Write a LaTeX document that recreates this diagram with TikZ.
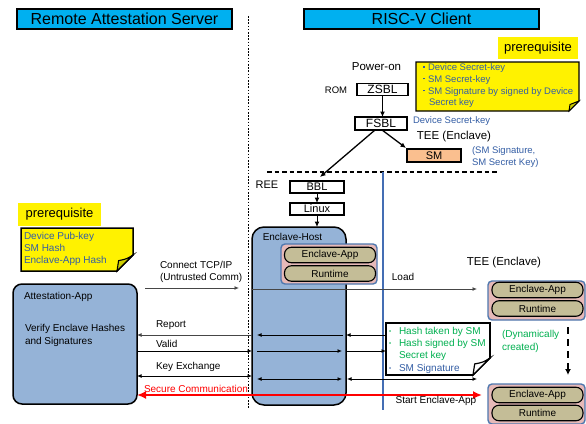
\documentclass[tikz,border=0pt]{standalone}
\usepackage{fontspec}
\setmainfont{Liberation Sans}
\usetikzlibrary{arrows.meta,calc}

\definecolor{titlecyan}{RGB}{0,176,240}
\definecolor{notetext}{RGB}{52,94,165}
\definecolor{dyngreen}{RGB}{0,176,80}
\definecolor{hostblue}{RGB}{149,179,215}
\definecolor{grppink}{RGB}{230,185,184}
\definecolor{grpblue}{RGB}{79,120,175}
\definecolor{pilltan}{RGB}{196,189,151}
\definecolor{smorange}{RGB}{250,191,143}
\definecolor{divblue}{RGB}{68,110,180}
\definecolor{foldyellow}{RGB}{205,205,0}
\definecolor{securered}{RGB}{255,0,0}
\definecolor{linegray}{RGB}{70,70,70}

% sticky note with a dog-eared lower right corner, drawn around a frame node
\newcommand\dognote[4]{%
  \draw[#3] (#1.north west) -- (#1.north east) -- ($(#1.south east)+(0,-#2)$)
    -- ($(#1.south east)+(-#2,0)$) -- (#1.south west) -- cycle;
  \draw[#4] ($(#1.south east)+(0,-#2)$)
    .. controls ($(#1.south east)+(-0.4*#2,-0.75*#2)$) .. ($(#1.south east)+(-0.9*#2,-0.65*#2)$)
    -- ($(#1.south east)+(-#2,0)$) -- cycle;
}

\begin{document}
\begin{tikzpicture}[x=1pt,y=-1pt,
  f95/.style={font=\fontsize{9.5}{11.8}\selectfont},
  f10/.style={font=\fontsize{10}{12.3}\selectfont},
  f11/.style={font=\fontsize{11}{13}\selectfont},
  f115/.style={font=\fontsize{11.5}{13.5}\selectfont},
  f12/.style={font=\fontsize{12}{14}\selectfont},
  f13/.style={font=\fontsize{13}{15}\selectfont},
  f16/.style={font=\fontsize{16}{18}\selectfont},
  txt/.style={inner sep=0pt, outer sep=0pt},
  titlebox/.style={txt, f16, draw=black, line width=2pt, fill=titlecyan},
  tagbox/.style={txt, f13, fill=yellow},
  stagebox/.style={txt, draw=black, line width=1.2pt, fill=white},
  pill/.style={txt, f10, draw=black, line width=1.1pt, fill=pilltan,
    rounded corners=7pt, minimum width=91, minimum height=15.5},
  grp/.style={txt, draw=grpblue, line width=1.4pt, fill=grppink, rounded corners=4pt},
  hostbox/.style={txt, draw=black, line width=1.5pt, fill=hostblue},
  frame/.style={txt},
  arr/.style={-{Latex[length=4.5pt,width=4pt]}, line width=0.9pt},
  bootarr/.style={-{Latex[length=5.5pt,width=5pt]}, line width=1.3pt},
  darr/.style={{Latex[length=4.5pt,width=4pt]}-{Latex[length=4.5pt,width=4pt]}, line width=0.9pt},
]
\useasboundingbox[fill=white] (0,0) rectangle (586,423);

% ---- headers and separator ----
\node[titlebox, minimum width=215, minimum height=20] (srvtitle) at (124.5,19) {Remote Attestation Server};
\node[titlebox, minimum width=235, minimum height=20] (clttitle) at (421.5,19) {RISC-V Client};
\coordinate (sepTop) at (248,16);
\coordinate (sepBot) at (248,408);
\draw[line width=0.8pt, dash pattern=on 1.6pt off 1.6pt] (sepTop) -- (sepBot);

% ---- client prerequisites ----
\node[tagbox, minimum width=80, minimum height=22] (ptagR) at (538,48) {prerequisite};
\node[frame, minimum width=163, minimum height=49] (noteR) at (497.5,86.5) {};
\dognote{noteR}{10}{draw=black,line width=1.3pt,fill=yellow}{draw=black,line width=1pt,fill=foldyellow}
\node[txt, f95, anchor=west, align=left, text=notetext] (noteRtxt) at (423,85.7)
  {\makebox[5pt][l]{\rule[2.8pt]{1.6pt}{1.6pt}}Device Secret-key\\
   \makebox[5pt][l]{\rule[2.8pt]{1.6pt}{1.6pt}}SM Secret-key\\
   \makebox[5pt][l]{\rule[2.8pt]{1.6pt}{1.6pt}}SM Signature by signed by Device\\
   \hspace*{6pt}Secret key};

% ---- boot chain ----
\node[txt, f115] (poweron) at (376.5,67) {Power-on};
\node[txt, f95] (rom) at (336,90) {ROM};
\node[stagebox, f12, minimum width=51, minimum height=12] (zsbl) at (382.5,89.5) {ZSBL};
\node[stagebox, f12, minimum width=52, minimum height=13] (fsbl) at (381,123.5) {FSBL};
\draw[bootarr] (zsbl.south) -- (zsbl.south |- fsbl.north);
\node[txt, f95, anchor=west, text=notetext] (fsblkey) at (413,121) {Device Secret-key};
\node[txt, f115] (teeup) at (454,137) {TEE (Enclave)};
\node[stagebox, fill=smorange, f11, minimum width=54, minimum height=13] (sm) at (434,155.5) {SM};
\node[txt, f95, anchor=west, align=left, text=notetext] (smkeys) at (472,157) {(SM Signature,\\SM Secret Key)};

\coordinate (reeL) at (267,172);
\coordinate (reeR) at (498,172);
\draw[line width=1.1pt, dash pattern=on 4.5pt off 3pt] (reeL) -- (reeR);
\node[txt, f11] (ree) at (267,185) {REE};
\node[stagebox, f11, minimum width=54, minimum height=12] (bbl) at (317,187) {BBL};
\node[stagebox, f11, minimum width=54, minimum height=12] (linux) at (317,209) {Linux};
\draw[bootarr] ([xshift=-6pt]fsbl.south) -- ([xshift=3pt,yshift=4pt]bbl.north);
\draw[bootarr] ([xshift=1pt]fsbl.south) -- ([xshift=-1pt,yshift=1pt]sm.north west);
\draw[bootarr, line width=1pt] (bbl.south) -- (linux.north);

% REE / TEE divider
\coordinate (tdivTop) at (383,172);
\coordinate (tdivBot) at (383,410);
\draw[line width=1.1pt, draw=divblue] (tdivTop) -- (tdivBot);

% ---- enclave host ----
\node[hostbox, rounded corners=12pt, minimum width=94, minimum height=178] (host) at (299,316) {};
\draw[bootarr, line width=1pt] (linux.south) -- (linux.south |- host.north);
\node[txt, f10] (hostlbl) at (292.5,237) {Enclave-Host};
\node[grp, minimum width=96, minimum height=40] (hostgrp) at (329,264) {};
\node[pill] (hostapp) at (330,255) {Enclave-App};
\node[pill] (hostrt) at (330,273.5) {Runtime};

% ---- enclaves in the TEE ----
\node[txt, f115] (teeR) at (504,263) {TEE (Enclave)};
\node[grp, minimum width=97, minimum height=39] (teeTop) at (536.5,300.5) {};
\node[pill] (teeTopApp) at (537.5,290) {Enclave-App};
\node[pill] (teeTopRt) at (537.5,308.5) {Runtime};
\node[grp, minimum width=97, minimum height=40] (teeBot) at (536.5,404) {};
\node[pill] (teeBotApp) at (537.5,395) {Enclave-App};
\node[pill] (teeBotRt) at (537.5,413) {Runtime};
\coordinate (dynTop) at (568,327);
\coordinate (dynBot) at (568,375);
\draw[-{Latex[length=6pt,width=6pt]}, line width=2.2pt, dash pattern=on 7pt off 5pt] (dynTop) -- (dynBot);
\node[txt, f10, anchor=west, align=left, text=dyngreen] (dyn) at (502,341.5) {(Dynamically\\created)};

% ---- measurement callout ----
\node[frame, minimum width=104, minimum height=52] (callout) at (438,349) {};
\dognote{callout}{17}{draw=black,line width=1.6pt,fill=white}{draw=black,line width=1.2pt,fill=white}
\node[txt, f10, anchor=west, align=left] (callouttxt) at (389,350)
  {\textcolor{dyngreen}{\makebox[10pt][l]{\raisebox{1pt}{\fontsize{6}{6}\selectfont •}}Hash taken by SM}\\
   \textcolor{dyngreen}{\makebox[10pt][l]{\raisebox{1pt}{\fontsize{6}{6}\selectfont •}}Hash signed by SM}\\
   \textcolor{dyngreen}{\hspace*{10pt}Secret key}\\
   \textcolor{notetext}{\makebox[10pt][l]{\raisebox{1pt}{\fontsize{6}{6}\selectfont •}}SM Signature}};

% ---- attestation server side ----
\node[tagbox, minimum width=83, minimum height=23] (ptagL) at (59.5,214.5) {prerequisite};
\node[frame, minimum width=112, minimum height=43] (noteL) at (77,249.5) {};
\dognote{noteL}{16}{draw=black,line width=1.5pt,fill=yellow}{draw=black,line width=1.1pt,fill=foldyellow}
\node[txt, f10, anchor=west, align=left, text=notetext] (noteLtxt) at (24,249)
  {Device Pub-key\\SM Hash\\Enclave-App Hash};

\node[hostbox, rounded corners=9pt, minimum width=124, minimum height=120] (attest) at (75,344) {};
\node[txt, f10, anchor=west] (attestlbl) at (24,297) {Attestation-App};
\node[txt, f10, anchor=west, align=left] (verify) at (25,335.5) {Verify Enclave Hashes\\and Signatures};

% ---- messages ----
\coordinate (tcpA) at (145,288);
\coordinate (tcpB) at (239,288);
\draw[arr, draw=linegray] (tcpA) -- (tcpB);
\node[txt, f10, anchor=west, align=left] (tcplbl) at (160,272) {Connect TCP/IP\\(Untrusted Comm)};

\coordinate (rowLoad) at (0,289);
\draw[arr, draw=linegray, shorten >=11pt] (host.west |- rowLoad) -- (teeTop.west |- rowLoad);
\node[txt, f10] (loadlbl) at (403,277) {Load};

\coordinate (rowRep) at (0,335);
\coordinate (rowVal) at (0,351);
\coordinate (rowKeyA) at (0,376);
\coordinate (rowKeyB) at (0,379);
\coordinate (rowSec) at (0,395);

\draw[arr] (callout.west |- rowRep) -- (host.east |- rowRep);
\draw[arr, shorten <=3pt, shorten >=5pt] (host.east |- rowRep) -- (host.west |- rowRep);
\draw[arr, draw=linegray] (host.west |- rowRep) -- (attest.east |- rowRep);
\node[txt, f10, anchor=west] (replbl) at (156,325) {Report};

\draw[arr] (attest.east |- rowVal) -- (host.west |- rowVal);
\draw[arr, shorten <=5pt, shorten >=4pt] (host.west |- rowVal) -- (host.east |- rowVal);
\draw[arr] (host.east |- rowVal) -- (callout.west |- rowVal);
\node[txt, f10, anchor=west] (vallbl) at (156,344) {Valid};

\draw[darr] (attest.east |- rowKeyA) -- (host.west |- rowKeyA);
\draw[darr, shorten <=5pt, shorten >=4pt] (host.west |- rowKeyB) -- (host.east |- rowKeyB);
\draw[darr, shorten <=1pt, shorten >=11pt] (host.east |- rowKeyB) -- (teeTop.west |- rowKeyB);
\node[txt, f10, anchor=west] (keylbl) at (156,367) {Key Exchange};

\draw[{Latex[length=9pt,width=8pt]}-{Latex[length=9pt,width=8pt]}, draw=securered, line width=2.6pt, shorten <=6pt]
  (teeBot.west |- rowSec) -- (attest.east |- rowSec);
\node[txt, f10, anchor=west, text=securered] (seclbl) at (144,388.5) {Secure Communication};
\node[txt, f10] (startlbl) at (436,401) {Start Enclave-App};
\end{tikzpicture}
\end{document}
